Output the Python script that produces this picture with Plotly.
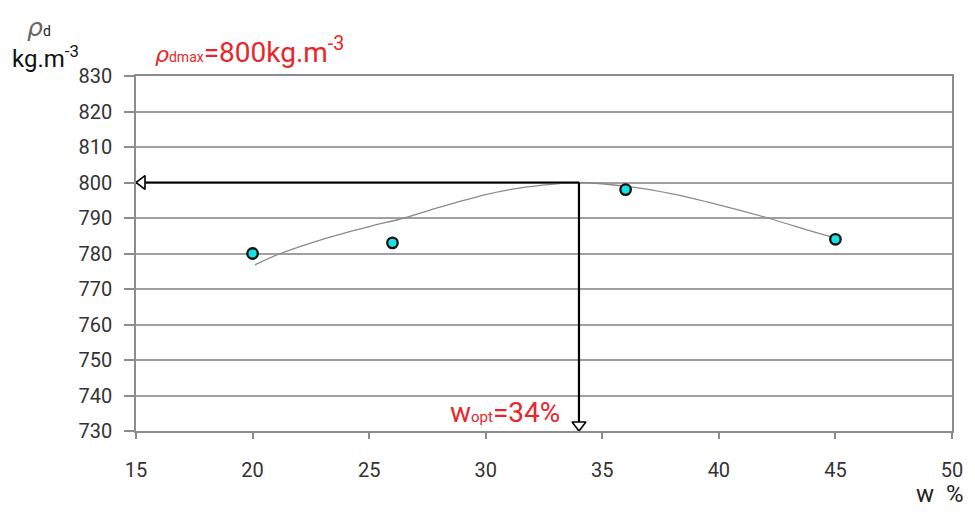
import plotly.graph_objects as go

# ---- data ----
w_points = [20, 26, 36, 45]
rho_points = [780, 783, 798, 784]

# fitted curve
w_curve = [20.1, 21.2, 23, 25, 26.5, 28, 30, 31.5, 32.8, 34, 36.3, 38, 40, 42.1, 44, 45]
rho_curve = [776.8, 780, 784, 787.6, 790, 793, 796.6, 798.5, 799.5, 800, 798.7, 796.8, 793.7, 790, 786.2, 784.3]

w_opt = 34
rho_max = 800

x_range = [15, 50]
y_range = [730, 830]
x_ticks = [15, 20, 25, 30, 35, 40, 45, 50]
y_ticks = list(range(730, 831, 10))

# ---- layout geometry (page body has an 8px margin) ----
OFF = 8
W, H = 975 - OFF, 515 - 2 * OFF
ML, MT = 136 - OFF, 76 - OFF
PW, PH = 816, 355
MR = W - ML - PW
MB = H - MT - PH
px_x = PW / (x_range[1] - x_range[0])
px_y = PH / (y_range[1] - y_range[0])

head_size = 12
r = head_size / 2

fig = go.Figure()

# trend curve
fig.add_trace(go.Scatter(x=w_curve, y=rho_curve, mode="lines",
                         line=dict(color="#8a8a8a", width=1.3, shape="spline", smoothing=0.8),
                         hoverinfo="skip"))

# arrows (lines)
fig.add_trace(go.Scatter(x=[w_opt, x_range[0]], y=[rho_max, rho_max], mode="lines",
                         line=dict(color="black", width=2.2), hoverinfo="skip"))
fig.add_trace(go.Scatter(x=[w_opt, w_opt], y=[rho_max, y_range[0]], mode="lines",
                         line=dict(color="black", width=2.2), hoverinfo="skip"))

# arrow heads
fig.add_trace(go.Scatter(x=[x_range[0] + r / px_x], y=[rho_max], mode="markers",
                         marker=dict(symbol="triangle-left", size=head_size, color="white",
                                     line=dict(color="black", width=1.6)), hoverinfo="skip"))
fig.add_trace(go.Scatter(x=[w_opt], y=[y_range[0] + r / px_y], mode="markers",
                         marker=dict(symbol="triangle-down", size=head_size, color="white",
                                     line=dict(color="black", width=1.6)), hoverinfo="skip"))

# data points
fig.add_trace(go.Scatter(x=w_points, y=rho_points, mode="markers",
                         marker=dict(symbol="circle", size=10.5, color="#19e0e6",
                                     line=dict(color="#111111", width=2.3))))


def px2paper(px, py):
    return (px - OFF - ML) / PW, (OFF + MT + PH - py) / PH


annos = []
# y-axis title
x0, y0 = px2paper(25, 28)
annos.append(dict(x=x0, y=y0, xref="paper", yref="paper", xanchor="left", yanchor="middle",
                  text="<i>ρ</i><span style='font-family:Roboto;font-size:14px;color:#222'>d</span>",
                  font=dict(family="DejaVu Sans", size=25, color="#666666"), showarrow=False))
x0, y0 = px2paper(10, 57)
annos.append(dict(x=x0, y=y0, xref="paper", yref="paper", xanchor="left", yanchor="middle",
                  text="kg.m<sup>-3</sup>",
                  font=dict(family="Roboto", size=24, color="#111111"), showarrow=False))
# red max annotation
x0, y0 = px2paper(153, 50)
annos.append(dict(x=x0, y=y0, xref="paper", yref="paper", xanchor="left", yanchor="middle",
                  text="<span style='font-family:DejaVu Sans;font-size:22px'><i>ρ</i></span>"
                       "<span style='font-size:14px'>dmax</span>=800kg.m<sup>-3</sup>",
                  font=dict(family="Roboto", size=28, color="#e8262b"), showarrow=False))
# red w opt annotation
x0, y0 = px2paper(448, 412)
annos.append(dict(x=x0, y=y0, xref="paper", yref="paper", xanchor="left", yanchor="middle",
                  text="w<span style='font-size:15px'>opt</span>=34%",
                  font=dict(family="Roboto", size=28, color="#e8262b"), showarrow=False))
# x-axis title
x0, y0 = px2paper(966, 494)
annos.append(dict(x=x0, y=y0, xref="paper", yref="paper", xanchor="right", yanchor="middle",
                  text="w  %", font=dict(family="Roboto", size=24, color="#222222"),
                  showarrow=False))

fig.update_layout(
    width=W, height=H,
    margin=dict(l=ML, r=MR, t=MT, b=MB, autoexpand=False),
    plot_bgcolor="white", paper_bgcolor="white",
    showlegend=False,
    annotations=annos,
    font=dict(family="Roboto", size=20, color="#333333"),
)
fig.update_xaxes(range=x_range, tickvals=x_ticks, showgrid=False, zeroline=False,
                 showline=True, linecolor="#8c8c8c", linewidth=1.5, mirror=True,
                 ticks="outside", ticklen=6, tickcolor="#8c8c8c", tickwidth=1.5,
                 ticklabelstandoff=14, automargin=False)
fig.update_yaxes(range=y_range, tickvals=y_ticks, showgrid=True, gridcolor="#a0a0a0",
                 gridwidth=1.5, zeroline=False,
                 showline=True, linecolor="#8c8c8c", linewidth=1.5, mirror=True,
                 ticks="outside", ticklen=10, tickcolor="#8c8c8c", tickwidth=1.5,
                 ticklabelstandoff=8, automargin=False)

fig.write_html("out.html")
